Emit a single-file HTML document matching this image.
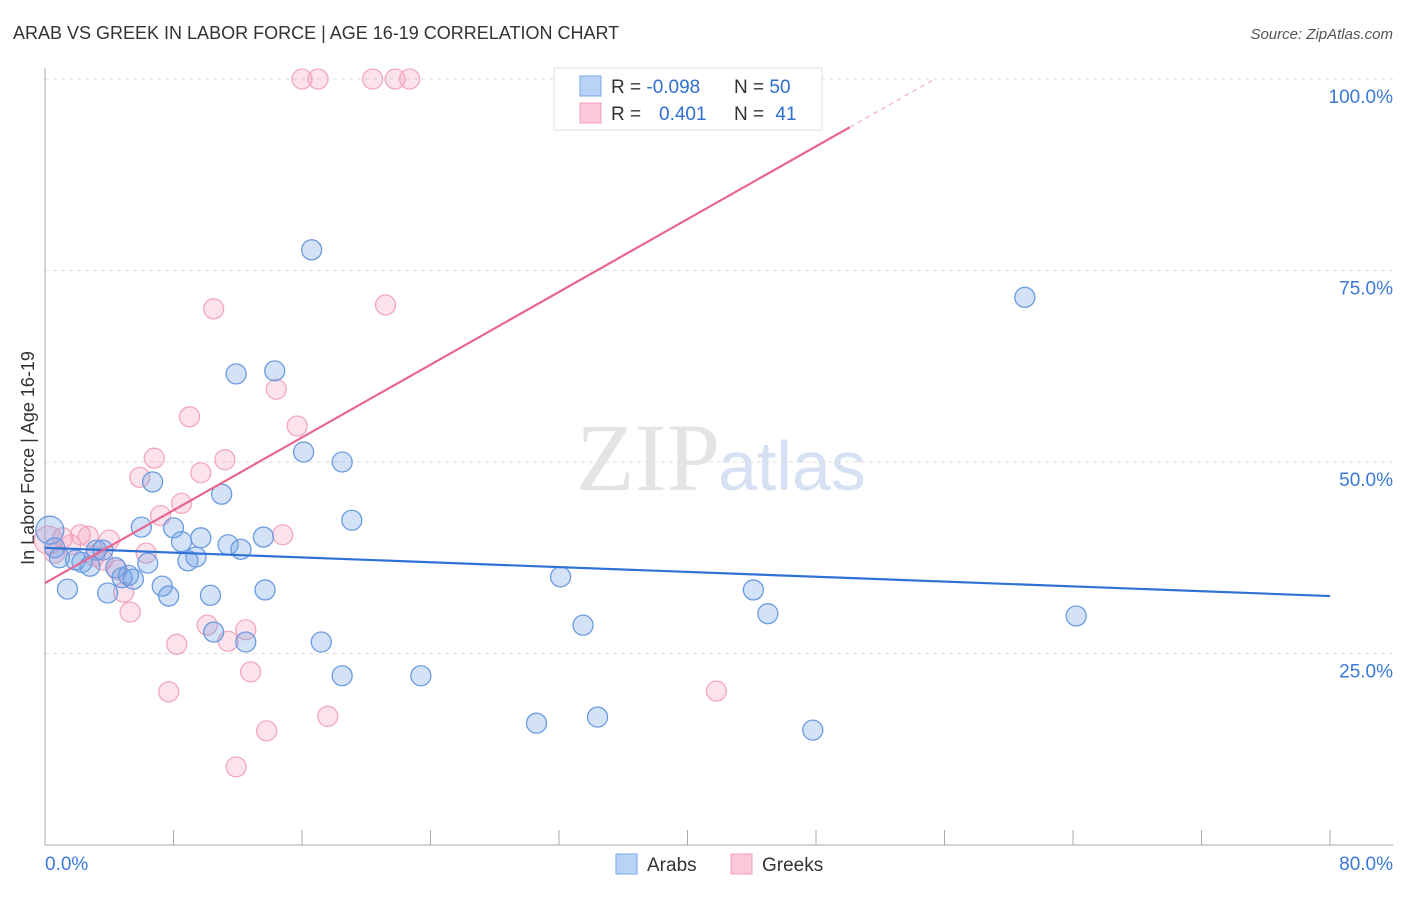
<!DOCTYPE html>
<html><head><meta charset="utf-8"><style>
body{margin:0;background:#fff;font-family:"Liberation Sans",sans-serif}
</style></head><body>
<svg id="c" width="1406" height="892" xmlns="http://www.w3.org/2000/svg" style="font-family:'Liberation Sans',sans-serif">
<text x="13" y="39" font-size="18" fill="#333">ARAB VS GREEK IN LABOR FORCE | AGE 16-19 CORRELATION CHART</text>
<text x="1393" y="39" font-size="15" fill="#555" font-style="italic" text-anchor="end">Source: ZipAtlas.com</text>
<text x="720" y="490" font-size="96" fill="#e4e4e4" text-anchor="end" font-family="Liberation Serif,serif">ZIP</text>
<text x="718" y="490" font-size="70" fill="#d6e2f3">atlas</text>
<text transform="translate(34,458) rotate(-90)" font-size="18" fill="#333" text-anchor="middle">In Labor Force | Age 16-19</text>
<g id="grid"></g><g id="marks"></g>
<g>
<rect x="554" y="68" width="268" height="62" fill="#fff" stroke="#ddd"/>
<rect x="580" y="76" width="21" height="20" fill="#b8d3f5" stroke="#7aa7e6"/>
<rect x="580" y="103" width="21" height="20" fill="#fac8d6" stroke="#f0a0b8"/>
<text x="611" y="93" font-size="19" fill="#333">R = <tspan fill="#2f6fd0">-0.098</tspan></text>
<text x="734" y="93" font-size="19" fill="#333">N = <tspan fill="#2f6fd0">50</tspan></text>
<text x="611" y="120" font-size="19" fill="#333">R = </text><text x="659" y="120" font-size="19" fill="#2f6fd0">0.401</text>
<text x="734" y="120" font-size="19" fill="#333">N = <tspan fill="#2f6fd0" dx="6">41</tspan></text>
</g>
<g>
<rect x="616" y="854" width="21" height="20" fill="#b8d3f5" stroke="#7aa7e6"/>
<text x="647" y="871" font-size="19" fill="#333">Arabs</text>
<rect x="731" y="854" width="21" height="20" fill="#fac8d6" stroke="#f0a0b8"/>
<text x="762" y="871" font-size="19" fill="#333">Greeks</text>
</g>
</svg>
<script>
const xTicks=[0,80];
const yTicks=[25,50,75,100];
const arabX=[0.3,0.6,0.9,1.4,1.9,2.3,2.8,3.2,3.6,3.9,4.4,4.8,5.2,5.5,6.0,6.4,6.7,7.3,7.7,8.0,8.5,8.9,9.4,9.7,10.3,10.5,11.0,11.4,11.9,12.2,12.5,13.6,13.7,14.3,16.1,16.6,17.2,18.5,18.5,19.1,23.4,30.6,32.1,33.5,34.4,44.1,45.0,47.8,61.0,64.2];
const arabY=[41.1,38.8,37.5,33.4,37.2,36.9,36.4,38.5,38.5,32.9,36.2,34.9,35.2,34.7,41.5,36.8,47.4,33.8,32.5,41.4,39.6,37.1,37.6,40.1,32.6,27.8,45.8,39.2,61.5,38.6,26.5,40.2,33.3,61.9,51.3,77.7,26.5,22.1,50.0,42.4,22.1,15.9,35.0,28.7,16.7,33.3,30.2,15.0,71.5,29.9];
const greekX=[0.2,0.6,1.1,1.6,2.2,2.7,3.1,3.6,4.0,4.5,4.9,5.3,5.9,6.3,6.8,7.2,7.7,8.2,8.5,9.0,9.7,10.1,10.5,11.2,11.4,12.5,12.8,13.8,14.4,14.8,15.7,16.0,17.0,17.6,20.4,21.2,21.8,22.7,32.6,41.8,11.9];
const greekY=[39.8,38.1,40.1,39.2,40.5,40.3,37.7,37.2,39.8,35.9,33.0,30.4,48.0,38.1,50.5,43.0,20.0,26.2,44.6,55.9,48.6,28.7,70.0,50.3,26.6,28.1,22.6,14.9,59.5,40.5,54.7,100,100,16.8,100,70.5,100,100,100,20.1,10.2];
const arabTrend=[38.8,32.5];   // y at x=0, y at x=80
const greekTrend=[34.2,93.7,50.1]; // y at 0, y at solidEnd, solidEnd x
const NS='http://www.w3.org/2000/svg';
const sx=v=>45+v/80*1285, sy=v=>845-v/100*766;
const grid=document.getElementById('grid'), marks=document.getElementById('marks');
function mk(p,tag,a){const e=document.createElementNS(NS,tag);for(const k in a)e.setAttribute(k,a[k]);p.appendChild(e);return e;}
yTicks.forEach(t=>{
  const l=mk(grid,'line',{x1:45,x2:1393,y1:sy(t),y2:sy(t),stroke:'#ddd','stroke-dasharray':'4,4'});
  
  
  const tx=mk(grid,'text',{x:1393,y:sy(t)+24,'font-size':19,fill:'#3b78d8','text-anchor':'end'});
  tx.textContent=t.toFixed(1)+'%';
  
  
});
mk(grid,'line',{x1:45,x2:45,y1:68,y2:845,stroke:'#aaa'});
mk(grid,'line',{x1:45,x2:1393,y1:845,y2:845,stroke:'#aaa'});
for(let i=0;i<=10;i++){mk(grid,'line',{x1:sx(i*8),x2:sx(i*8),y1:830,y2:845,stroke:'#aaa'});}
xTicks.forEach((t,i)=>{
  const tx=mk(grid,'text',{x:i?1393:45,y:870,'font-size':19,fill:'#3b78d8','text-anchor':i?'end':'start'});
  tx.textContent=t.toFixed(1)+'%';
  
  
});
function dots(X,Y,fill,stroke,name){
  X.forEach((x,i)=>{
    const r=(x<0.5)?14:10;
    const c=mk(marks,'circle',{cx:sx(x),cy:sy(Y[i]),r:r,fill:fill,stroke:stroke,'stroke-width':1.3});
    
    
  });
}
dots(greekX,greekY,'rgba(245,160,190,0.3)','#f2a7bf','greek-point');
dots(arabX,arabY,'rgba(110,160,230,0.3)','#6b9be0','arab-point');
const bl=mk(marks,'line',{x1:sx(0),y1:sy(arabTrend[0]),x2:sx(80),y2:sy(arabTrend[1]),stroke:'#2f72d6','stroke-width':2.2});


const slope=(greekTrend[1]-greekTrend[0])/greekTrend[2];
const pl=mk(marks,'line',{x1:sx(0),y1:sy(greekTrend[0]),x2:sx(greekTrend[2]),y2:sy(greekTrend[1]),stroke:'#e8668f','stroke-width':2.2});


const xe=(100-greekTrend[0])/slope;
const pd=mk(marks,'line',{x1:sx(greekTrend[2]),y1:sy(greekTrend[1]),x2:sx(xe),y2:sy(100),stroke:'#f0a0b8','stroke-width':1,'stroke-dasharray':'5,4'});


</script>
</body></html>
